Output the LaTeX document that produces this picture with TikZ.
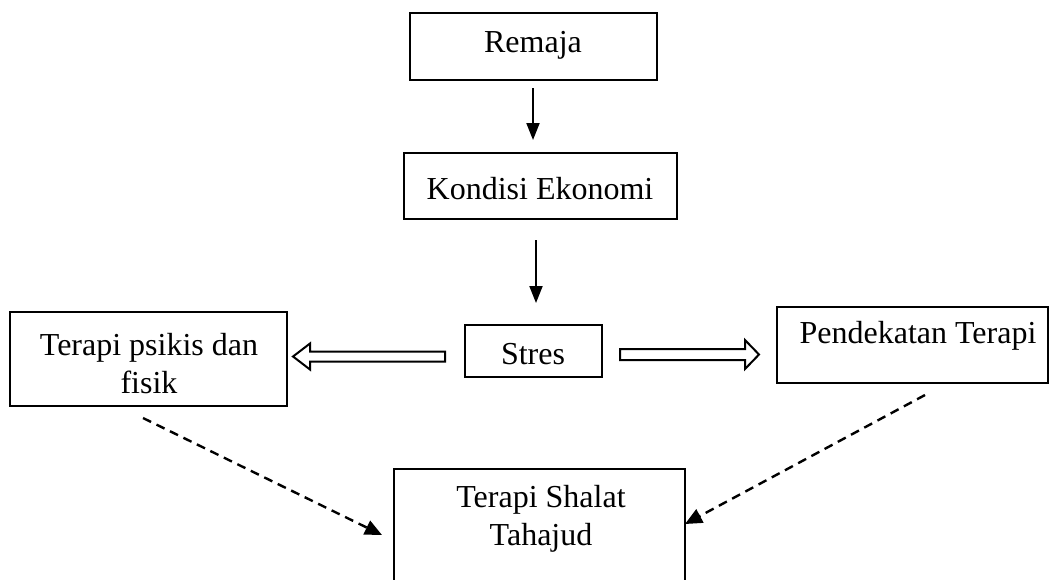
\documentclass[tikz,border=0pt]{standalone}
\usepackage{fontspec}
\setmainfont{Liberation Serif}
\usetikzlibrary{arrows.meta}
\begin{document}
\begin{tikzpicture}[x=1pt,y=-1pt,
  box/.style={draw,line width=2.4pt,inner sep=0pt},
  txt/.style={font=\fontsize{32}{38}\selectfont,align=center,inner sep=0pt},
  arr/.style={line width=2pt,-{Triangle[length=17pt,width=13pt]}},
  darr/.style={line width=2.4pt,dash pattern=on 9pt off 6pt,-{Triangle[length=17pt,width=15pt]}},
  openarr/.style={line width=2pt,line join=miter}]
\useasboundingbox (0,0) rectangle (1051,579);
\clip (0,0) rectangle (1051,579);
% boxes
\node[box,minimum width=247pt,minimum height=67pt] (remaja) at (533.5,46.5) {};
\node[box,minimum width=273pt,minimum height=66pt] (kondisi) at (540.5,186) {};
\node[box,minimum width=137pt,minimum height=52pt] (stres) at (533.5,351) {};
\node[box,minimum width=277pt,minimum height=94pt] (psikis) at (148.5,359) {};
\node[box,minimum width=271pt,minimum height=76pt] (pendekatan) at (912.5,345) {};
\node[box,minimum width=291pt,minimum height=140pt] (shalat) at (539.5,539) {};
% texts
\node[txt] (remajaT) at (533,45) {Remaja};
\node[txt] (kondisiT) at (540,189) {Kondisi Ekonomi};
\node[txt] (stresT) at (533,354) {Stres};
\node[txt] (psikisT) at (149,364) {Terapi psikis dan\\fisik};
\node[txt] (pendekatanT) at (918,336) {Pendekatan Terapi};
\node[txt] (shalatT) at (541,519) {Terapi Shalat\\Tahajud};
% solid arrows
\coordinate (a1s) at (533,88);
\coordinate (a1e) at (533,140);
\coordinate (a2s) at (536,240);
\coordinate (a2e) at (536,303);
\draw[arr] (a1s) -- (a1e);
\draw[arr] (a2s) -- (a2e);
% open arrows
\coordinate (lt) at (445,356.5);
\coordinate (lh) at (293,356.5);
\draw[openarr] (lt) ++(0,-5) -- ++(-135,0) -- ++(0,-8) -- (lh) -- ++(17,13) -- ++(0,-8) -- ++(135,0) -- cycle;
\coordinate (rt) at (620,354.5);
\coordinate (rh) at (759,354.5);
\draw[openarr] (rt) ++(0,-5.5) -- ++(125,0) -- ++(0,-9) -- (rh) -- ++(-14,14.5) -- ++(0,-9) -- ++(-125,0) -- cycle;
% dashed arrows
\coordinate (d1s) at (143,418);
\coordinate (d1e) at (382,535);
\coordinate (d2s) at (925,395);
\coordinate (d2e) at (685,524);
\draw[darr] (d1s) -- (d1e);
\draw[darr] (d2s) -- (d2e);
\end{tikzpicture}
\end{document}
